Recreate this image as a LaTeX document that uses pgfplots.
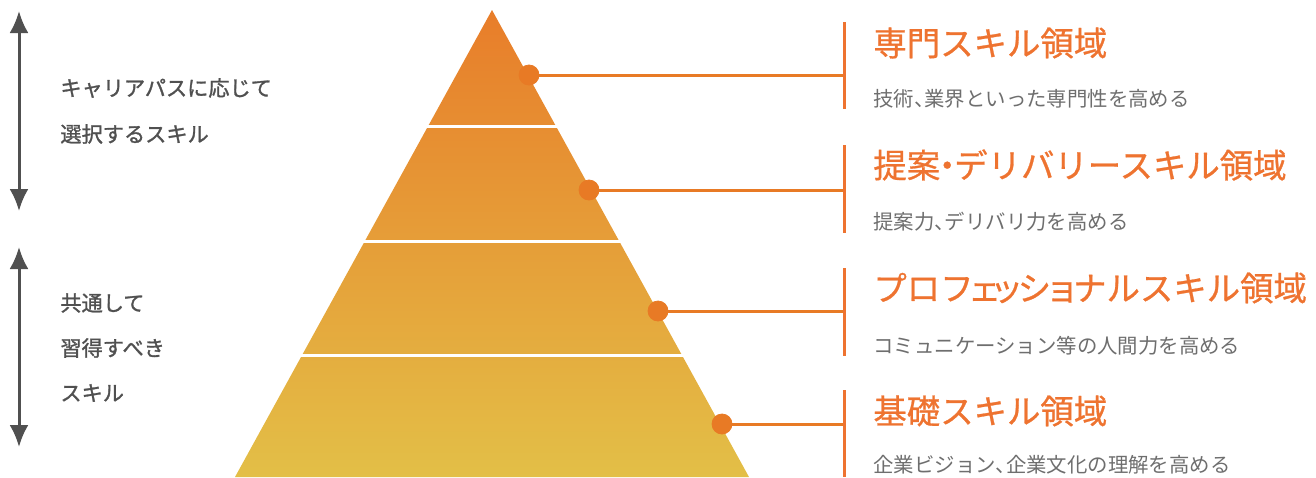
\documentclass[border=0pt]{standalone}
\usepackage{pgfplots}
\pgfplotsset{compat=1.18}
\usetikzlibrary{arrows.meta}
\usepackage{fontspec}
\setmainfont{Noto Sans CJK JP}
\newfontfamily\cjk{Noto Sans CJK JP}
\newfontfamily\cjkt{Noto Sans CJK JP}[FakeBold=0.8]
\newfontfamily\cjkl{Noto Sans CJK JP}[FakeBold=1.3]

\definecolor{pyrtop}{HTML}{E87D2A}
\definecolor{pyrbot}{HTML}{E3BF47}
\definecolor{dotc}{HTML}{E87A25}
\definecolor{barc}{HTML}{EE7330}
\definecolor{subc}{HTML}{6E6E6E}
\definecolor{leftc}{HTML}{505050}

% narrow glyphs (small kana, middle dot, comma) as in the reference
\newcommand{\nk}[1]{\makebox[0.66em]{#1}}
\newcommand{\nd}[1]{\makebox[0.42em]{#1}}
\newcommand{\nc}[1]{\makebox[0.5em][l]{#1}}

\begin{document}
\begin{tikzpicture}
\begin{axis}[
    name=ax,
    scale only axis,
    width=658pt, height=238.5pt,
    xmin=0, xmax=1316, ymin=0, ymax=477,
    y dir=reverse,
    hide axis,
    clip=false,
]
% pyramid
\addplot[draw=none, top color=pyrtop, bottom color=pyrbot]
    coordinates {(492,10) (749,477) (235,477)} -- cycle;
% layer separators
\addplot[white, line width=1.5pt] coordinates {(420,126) (565,126)};
\addplot[white, line width=1.5pt] coordinates {(355,241) (630,241)};
\addplot[white, line width=1.5pt] coordinates {(290,355) (695,355)};

% leader lines
\addplot[dotc, line width=1.5pt] coordinates {(529,75) (844,75)};
\addplot[dotc, line width=1.5pt] coordinates {(589,190) (844,190)};
\addplot[dotc, line width=1.5pt] coordinates {(658,311) (844,311)};
\addplot[dotc, line width=1.5pt] coordinates {(722,424) (844,424)};
\addplot[only marks, mark=*, mark size=5pt, color=dotc]
    coordinates {(529,75) (589,190) (658,311) (722,424)};

% vertical bars
\addplot[barc, line width=1.5pt] coordinates {(844,22) (844,109)};
\addplot[barc, line width=1.5pt] coordinates {(844,145) (844,233)};
\addplot[barc, line width=1.5pt] coordinates {(844,268) (844,356)};
\addplot[barc, line width=1.5pt] coordinates {(844,390) (844,477)};

% left arrows
\addplot[leftc, line width=1.5pt, {Latex[length=11pt,width=9.5pt]}-{Latex[length=11pt,width=9.5pt]}]
    coordinates {(19,11) (19,211)};
\addplot[leftc, line width=1.5pt, {Latex[length=11pt,width=9.5pt]}-{Latex[length=11pt,width=9.5pt]}]
    coordinates {(19,247) (19,447)};

% titles
\node[anchor=west, inner sep=0pt, text=barc, font=\cjkt\fontsize{16.7pt}{18pt}\selectfont]
    at (axis cs:873,43) {専門スキル領域};
\node[anchor=west, inner sep=0pt, text=barc, font=\cjkt\fontsize{16.7pt}{18pt}\selectfont]
    at (axis cs:873,165) {提案\nd{・}デリバリースキル領域};
\node[anchor=west, inner sep=0pt, text=barc, font=\cjkt\fontsize{16.7pt}{18pt}\selectfont]
    at (axis cs:873,288) {プロフ\nk{ェ}\nk{ッ}シ\nk{ョ}ナルスキル領域};
\node[anchor=west, inner sep=0pt, text=barc, font=\cjkt\fontsize{16.7pt}{18pt}\selectfont]
    at (axis cs:873,411) {基礎スキル領域};

% descriptions
\node[anchor=west, inner sep=0pt, text=subc, font=\cjk\fontsize{10.2pt}{12pt}\selectfont]
    at (axis cs:873,99) {技術\nc{、}業界といった専門性を高める};
\node[anchor=west, inner sep=0pt, text=subc, font=\cjk\fontsize{10.2pt}{12pt}\selectfont]
    at (axis cs:873,222) {提案力\nc{、}デリバリ力を高める};
\node[anchor=west, inner sep=0pt, text=subc, font=\cjk\fontsize{10.2pt}{12pt}\selectfont]
    at (axis cs:873,346) {コミュニケーション等の人間力を高める};
\node[anchor=west, inner sep=0pt, text=subc, font=\cjk\fontsize{10.2pt}{12pt}\selectfont]
    at (axis cs:873,465) {企業ビジョン\nc{、}企業文化の理解を高める};

% left labels
\node[anchor=west, inner sep=0pt, text=leftc, font=\cjkl\fontsize{10.6pt}{12pt}\selectfont]
    at (axis cs:60,88) {キャリアパスに応じて};
\node[anchor=west, inner sep=0pt, text=leftc, font=\cjkl\fontsize{10.6pt}{12pt}\selectfont]
    at (axis cs:60,134) {選択するスキル};
\node[anchor=west, inner sep=0pt, text=leftc, font=\cjkl\fontsize{10.6pt}{12pt}\selectfont]
    at (axis cs:60,303) {共通して};
\node[anchor=west, inner sep=0pt, text=leftc, font=\cjkl\fontsize{10.6pt}{12pt}\selectfont]
    at (axis cs:60,348) {習得すべき};
\node[anchor=west, inner sep=0pt, text=leftc, font=\cjkl\fontsize{10.6pt}{12pt}\selectfont]
    at (axis cs:60,393) {スキル};
\end{axis}
\pgfresetboundingbox
\useasboundingbox (ax.south west) rectangle (ax.north east);
\end{tikzpicture}
\end{document}
